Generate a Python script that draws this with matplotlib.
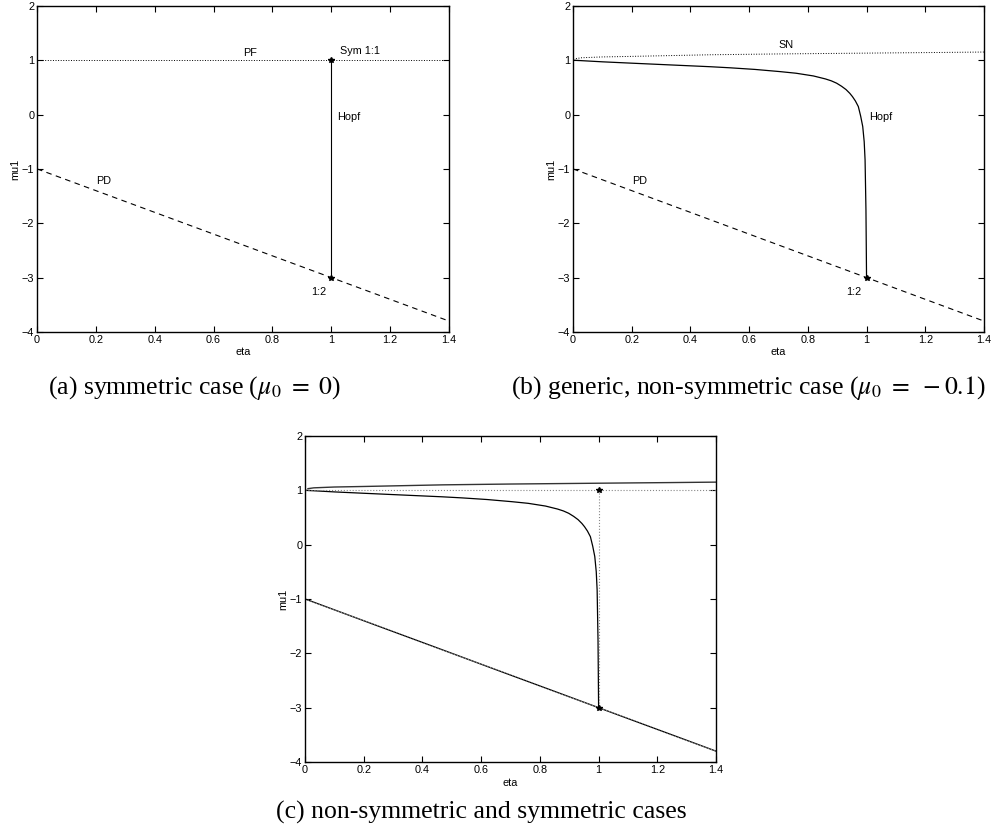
import numpy as np
import matplotlib.pyplot as plt

plt.rcParams['font.family'] = ['Liberation Sans', 'DejaVu Sans']
plt.rcParams['mathtext.fontset'] = 'stix'

# straight lines (symmetric case)
pd_eta = [0.0, 1.4]
pd_mu = [-1.0, -3.8]
pf_eta = [0.0, 1.4]
pf_mu = [1.0, 1.0]
hopf_sym_eta = [1.0, 1.0]
hopf_sym_mu = [1.0, -3.0]

# curves
sn_eta = [0.0, 0.01, 0.03, 0.1, 0.2, 0.47, 0.7, 0.9, 1.1, 1.25, 1.4]
sn_mu = [1.0, 1.03, 1.045, 1.06, 1.07, 1.10, 1.115, 1.125, 1.135, 1.142, 1.15]
hopf_eta = [0.0, 0.1, 0.2, 0.364, 0.467, 0.535, 0.62, 0.705, 0.76, 0.819, 0.86, 0.88,
            0.898, 0.915, 0.93, 0.943, 0.952, 0.962, 0.972, 0.98, 0.987, 0.992,
            0.995, 0.998, 1.0]
hopf_mu = [1.0, 0.97, 0.945, 0.905, 0.88, 0.86, 0.83, 0.79, 0.76, 0.71, 0.655, 0.62,
           0.577, 0.52, 0.46, 0.39, 0.33, 0.25, 0.147, -0.03, -0.22, -0.5,
           -0.835, -1.755, -3.0]

# special points
pt_eta = [1.0, 1.0]
pt_mu = [1.0, -3.0]

xticks = [0, 0.2, 0.4, 0.6, 0.8, 1, 1.2, 1.4]
xticklabels = ['0', '0.2', '0.4', '0.6', '0.8', '1', '1.2', '1.4']
yticks = [-4, -3, -2, -1, 0, 1, 2]

FS = 7.8


def setup(ax):
    ax.set_xlim(0, 1.4)
    ax.set_ylim(-4, 2)
    ax.set_xticks(xticks)
    ax.set_xticklabels(xticklabels)
    ax.set_yticks(yticks)
    ax.tick_params(direction='in', top=True, right=True, labelsize=FS,
                   length=4, width=0.8, pad=2)
    for s in ax.spines.values():
        s.set_linewidth(1.0)
    ax.set_xlabel('eta', fontsize=FS, labelpad=2)
    ax.set_ylabel('mu1', fontsize=FS, labelpad=1)


fig = plt.figure(figsize=(9.92, 8.34), dpi=100)
ax_a = fig.add_axes([0.0373, 0.602, 0.4153, 0.391])
ax_b = fig.add_axes([0.5776, 0.602, 0.4143, 0.391])
ax_c = fig.add_axes([0.3075, 0.0863, 0.4143, 0.391])

# (a) symmetric case
ax = ax_a
ax.plot(pf_eta, pf_mu, color='k', ls=':', lw=0.7)
ax.plot(pd_eta, pd_mu, color='k', ls=(0, (5, 4)), lw=0.8)
ax.plot(hopf_sym_eta, hopf_sym_mu, color='k', lw=0.8)
ax.plot(pt_eta, pt_mu, 'k*', ms=4)
ax.text(0.7, 1.14, 'PF', fontsize=FS, va='center')
ax.text(1.03, 1.17, 'Sym 1:1', fontsize=FS, va='center')
ax.text(1.02, -0.04, 'Hopf', fontsize=FS, va='center')
ax.text(0.2, -1.22, 'PD', fontsize=FS, va='center')
ax.text(0.93, -3.27, '1:2', fontsize=FS, va='center')
setup(ax)

# (b) generic, non-symmetric case
ax = ax_b
ax.plot(sn_eta[1:], sn_mu[1:], color='k', ls=':', lw=0.7)
ax.plot(pd_eta, pd_mu, color='k', ls=(0, (5, 4)), lw=0.8)
ax.plot(hopf_eta, hopf_mu, color='k', lw=0.9)
ax.plot(pt_eta[1:], pt_mu[1:], 'k*', ms=4)
ax.text(0.7, 1.28, 'SN', fontsize=FS, va='center')
ax.text(1.01, -0.04, 'Hopf', fontsize=FS, va='center')
ax.text(0.2, -1.22, 'PD', fontsize=FS, va='center')
ax.text(0.93, -3.27, '1:2', fontsize=FS, va='center')
setup(ax)

# (c) both cases
ax = ax_c
ax.plot(sn_eta[1:], sn_mu[1:], color='#333333', lw=1.0)
ax.plot(hopf_eta, hopf_mu, color='k', lw=0.9)
ax.plot(pd_eta, pd_mu, color='k', lw=0.9)
ax.plot(pf_eta, pf_mu, color='#888888', ls=':', lw=0.8)
ax.plot(hopf_sym_eta, hopf_sym_mu, color='#888888', ls=':', lw=0.8)
ax.plot(pd_eta, pd_mu, color='#888888', ls=':', lw=0.8)
ax.plot(pt_eta, pt_mu, 'k*', ms=4)
setup(ax)

CFS = 18.5
fig.text(0.048, 0.535, r'(a) symmetric case ($\mu_0\ =\ 0$)', fontsize=CFS,
         family='Liberation Serif', ha='left', va='center')
fig.text(0.994, 0.535, r'(b) generic, non-symmetric case ($\mu_0\ =\ -0.1$)', fontsize=CFS,
         family='Liberation Serif', ha='right', va='center')
fig.text(0.485, 0.026, '(c) non-symmetric and symmetric cases', fontsize=CFS,
         family='Liberation Serif', ha='center', va='center')

fig.savefig('out.png', dpi=100)
